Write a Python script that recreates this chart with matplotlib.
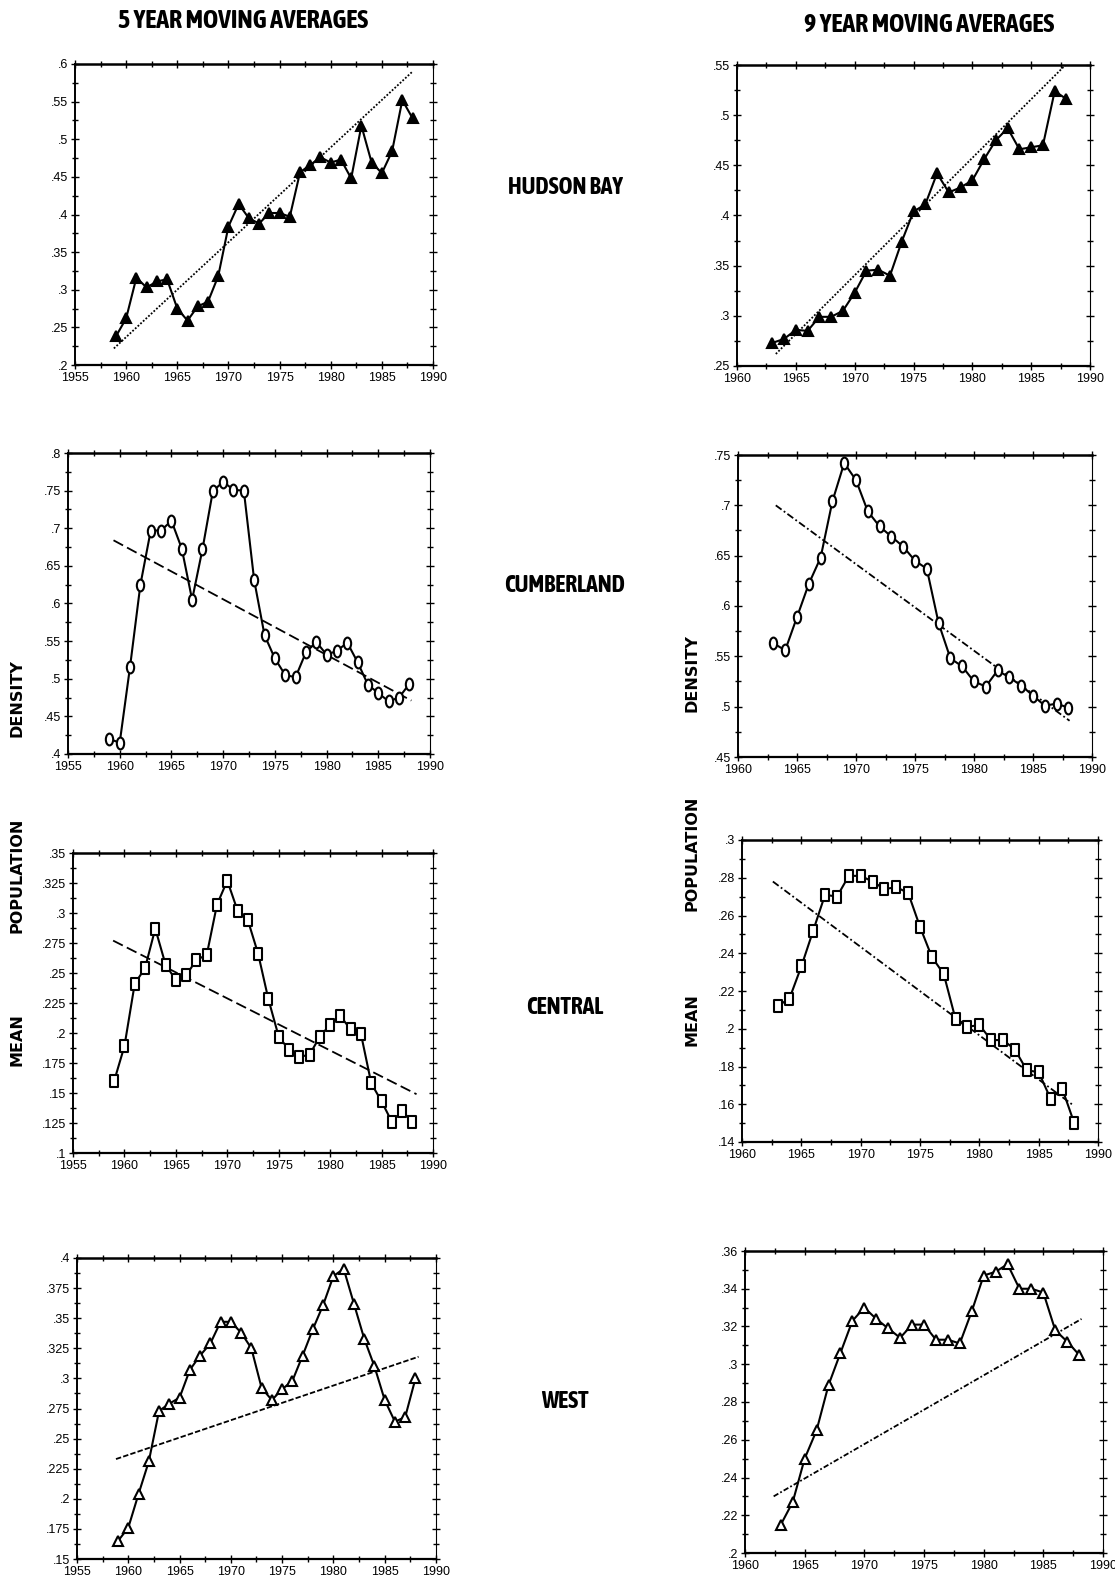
import numpy as np
import matplotlib
matplotlib.use("Agg")
import matplotlib.pyplot as plt
from matplotlib import font_manager as fm
from matplotlib import patheffects as pe
from matplotlib.path import Path
from matplotlib.ticker import MultipleLocator, FuncFormatter
import matplotlib.transforms as mtransforms

# ---------------- data ----------------
years5 = list(range(1959, 1989))
years9 = list(range(1963, 1989))

hudson5 = [0.238, 0.262, 0.316, 0.303, 0.311, 0.314, 0.275, 0.259, 0.278, 0.284,
           0.318, 0.384, 0.414, 0.395, 0.388, 0.402, 0.402, 0.397, 0.456, 0.466,
           0.476, 0.469, 0.473, 0.448, 0.518, 0.469, 0.455, 0.484, 0.552, 0.528]
hudson9 = [0.273, 0.277, 0.286, 0.285, 0.299, 0.299, 0.305, 0.323, 0.345, 0.346,
           0.340, 0.374, 0.404, 0.411, 0.442, 0.423, 0.428, 0.435, 0.456, 0.475,
           0.487, 0.466, 0.468, 0.470, 0.524, 0.516]
cumber5 = [0.420, 0.415, 0.516, 0.625, 0.697, 0.697, 0.710, 0.673, 0.605, 0.672,
           0.749, 0.762, 0.751, 0.750, 0.631, 0.558, 0.527, 0.505, 0.502, 0.535,
           0.549, 0.532, 0.537, 0.548, 0.522, 0.492, 0.481, 0.470, 0.475, 0.493]
cumber9 = [0.563, 0.556, 0.589, 0.622, 0.648, 0.704, 0.742, 0.725, 0.694, 0.679,
           0.669, 0.659, 0.645, 0.637, 0.583, 0.548, 0.540, 0.525, 0.520, 0.536,
           0.529, 0.521, 0.511, 0.501, 0.503, 0.499]
central5 = [0.160, 0.189, 0.241, 0.254, 0.287, 0.257, 0.244, 0.248, 0.261, 0.265,
            0.307, 0.327, 0.302, 0.294, 0.266, 0.228, 0.197, 0.186, 0.180, 0.182,
            0.197, 0.207, 0.214, 0.203, 0.199, 0.158, 0.143, 0.126, 0.135, 0.126]
central9 = [0.212, 0.216, 0.233, 0.252, 0.271, 0.270, 0.281, 0.281, 0.278, 0.274,
            0.275, 0.272, 0.254, 0.238, 0.229, 0.205, 0.201, 0.202, 0.194, 0.194,
            0.189, 0.178, 0.177, 0.163, 0.168, 0.150]
west5 = [0.165, 0.176, 0.204, 0.231, 0.273, 0.279, 0.284, 0.307, 0.319, 0.329,
         0.347, 0.347, 0.338, 0.325, 0.292, 0.282, 0.291, 0.298, 0.319, 0.341,
         0.361, 0.385, 0.391, 0.362, 0.333, 0.310, 0.282, 0.264, 0.268, 0.300]
west9 = [0.215, 0.227, 0.250, 0.265, 0.289, 0.306, 0.323, 0.330, 0.324, 0.319,
         0.314, 0.321, 0.321, 0.313, 0.313, 0.311, 0.328, 0.347, 0.349, 0.353,
         0.340, 0.340, 0.338, 0.318, 0.312, 0.305]

# trend lines (start/end)
hudson5_trend_x, hudson5_trend_y = [1958.8, 1988.0], [0.222, 0.590]
hudson9_trend_x, hudson9_trend_y = [1963.3, 1988.0], [0.262, 0.551]
cumber5_trend_x, cumber5_trend_y = [1959.4, 1988.2], [0.684, 0.471]
cumber9_trend_x, cumber9_trend_y = [1963.2, 1988.1], [0.700, 0.486]
central5_trend_x, central5_trend_y = [1958.9, 1988.4], [0.277, 0.149]
central9_trend_x, central9_trend_y = [1962.6, 1987.8], [0.278, 0.160]
west5_trend_x, west5_trend_y = [1958.8, 1988.3], [0.233, 0.318]
west9_trend_x, west9_trend_y = [1962.4, 1988.2], [0.230, 0.324]

regions = ["HUDSON BAY", "CUMBERLAND", "CENTRAL", "WEST"]
col_titles = ["5 YEAR MOVING AVERAGES", "9 YEAR MOVING AVERAGES"]
side_words = ["DENSITY", "POPULATION", "MEAN"]

# ---------------- fonts ----------------
def _w(f):
    w = f.weight
    if isinstance(w, str):
        w = fm.weight_dict.get(w, 400)
    return w


_entries = [f for f in fm.fontManager.ttflist
            if any(k in f.name for k in ("Narrow", "Condensed", "Cond"))]
_bold = [f for f in _entries if _w(f) >= 600]
head_effects = None
if _bold:
    head_family = [_bold[0].name, "DejaVu Sans"]
    title_size, region_size = 18.7, 17
elif _entries:
    head_family = [_entries[0].name, "DejaVu Sans"]
    title_size, region_size = 16.5, 15.5
    head_effects = [pe.withStroke(linewidth=1.3, foreground="black")]
else:
    head_family = ["Liberation Sans", "DejaVu Sans"]
    title_size, region_size = 14, 13.5
tick_family = ["Liberation Sans", "DejaVu Sans"]

# ---------------- styling ----------------
W, H = 1115, 1587
fig = plt.figure(figsize=(W / 100, H / 100), dpi=100)
fig.patch.set_facecolor("white")

ellipse = Path.unit_circle().transformed(mtransforms.Affine2D().scale(0.62, 1.0))
rect = Path([(-0.6, -1), (0.6, -1), (0.6, 1), (-0.6, 1), (-0.6, -1)],
            [Path.MOVETO, Path.LINETO, Path.LINETO, Path.LINETO, Path.CLOSEPOLY])


def px_rect(l, r, t, b):
    return [l / W, 1 - b / H, (r - l) / W, (b - t) / H]


def fmt_dot(v, p):
    s = "%g" % round(v, 4)
    if s.startswith("0."):
        s = s[1:]
    return s


panels = [
    ((75, 433, 64, 365), years5, hudson5, hudson5_trend_x, hudson5_trend_y,
     (0.2, 0.6), 0.05, (1955, 1990), "^", "black", 7, (0, (1, 1))),
    ((737, 1090, 65, 366), years9, hudson9, hudson9_trend_x, hudson9_trend_y,
     (0.25, 0.55), 0.05, (1960, 1990), "^", "black", 7, (0, (1, 1))),
    ((68, 430, 453, 754), years5, cumber5, cumber5_trend_x, cumber5_trend_y,
     (0.4, 0.8), 0.05, (1955, 1990), ellipse, "white", 8.5, (0, (6, 2.5))),
    ((738, 1092, 455, 757), years9, cumber9, cumber9_trend_x, cumber9_trend_y,
     (0.45, 0.75), 0.05, (1960, 1990), ellipse, "white", 8.5, (0, (4, 1.5, 1, 1.5))),
    ((73, 433, 853, 1153), years5, central5, central5_trend_x, central5_trend_y,
     (0.1, 0.35), 0.025, (1955, 1990), rect, "white", 8.5, (0, (6, 2.5))),
    ((742, 1098, 840, 1142), years9, central9, central9_trend_x, central9_trend_y,
     (0.14, 0.30), 0.02, (1960, 1990), rect, "white", 8.5, (0, (4, 1.5, 1, 1.5))),
    ((77, 436, 1258, 1559), years5, west5, west5_trend_x, west5_trend_y,
     (0.15, 0.40), 0.025, (1955, 1990), "^", "white", 7, (0, (3, 1.2))),
    ((745, 1103, 1251, 1553), years9, west9, west9_trend_x, west9_trend_y,
     (0.20, 0.36), 0.02, (1960, 1990), "^", "white", 7, (0, (3, 1.2, 1, 1.2))),
]

for (rpx, xs, ys, tx, ty, ylim, ystep, xlim, mk, fc, ms, tstyle) in panels:
    ax = fig.add_axes(px_rect(*rpx))
    ax.plot(tx, ty, color="black", lw=1.3, linestyle=tstyle, zorder=2)
    ax.plot(xs, ys, color="black", lw=1.5, marker=mk, ms=ms,
            mfc=fc, mec="black", mew=1.5, zorder=3)
    ax.set_xlim(*xlim)
    ax.set_ylim(*ylim)
    ax.xaxis.set_major_locator(MultipleLocator(5))
    ax.xaxis.set_minor_locator(MultipleLocator(2.5))
    ax.yaxis.set_major_locator(MultipleLocator(ystep))
    ax.yaxis.set_minor_locator(MultipleLocator(ystep / 2))
    ax.yaxis.set_major_formatter(FuncFormatter(fmt_dot))
    ax.tick_params(which="both", direction="inout", top=True, right=True,
                   width=1.0, color="black")
    ax.tick_params(which="major", length=6, pad=2, labelsize=9)
    ax.tick_params(which="minor", length=4)
    for lab in ax.get_xticklabels() + ax.get_yticklabels():
        lab.set_family(tick_family)
    ax.spines["top"].set_linewidth(1.8)
    ax.spines["bottom"].set_linewidth(1.6)
    ax.spines["left"].set_linewidth(1.4)
    ax.spines["right"].set_linewidth(0.8)

# column titles
fig.text(243 / W, 1 - 20 / H, col_titles[0], ha="center", va="center",
         fontsize=title_size, fontweight="bold", family=head_family,
         path_effects=head_effects)
fig.text(929 / W, 1 - 24 / H, col_titles[1], ha="center", va="center",
         fontsize=title_size, fontweight="bold", family=head_family,
         path_effects=head_effects)

# region labels
for name, yc in zip(regions, [187, 585, 1007, 1401]):
    fig.text(565 / W, 1 - yc / H, name, ha="center", va="center",
             fontsize=region_size, fontweight="bold", family=head_family,
             path_effects=head_effects)

# vertical side labels
for xc, ycs in [(17, [698, 875, 1040]), (692, [673, 853, 1020])]:
    for word, yc in zip(side_words, ycs):
        fig.text(xc / W, 1 - yc / H, word, ha="center", va="center",
                 rotation=90, fontsize=11.5, fontweight="bold",
                 family=["DejaVu Sans"])

fig.savefig("out.png", dpi=100, facecolor="white")
